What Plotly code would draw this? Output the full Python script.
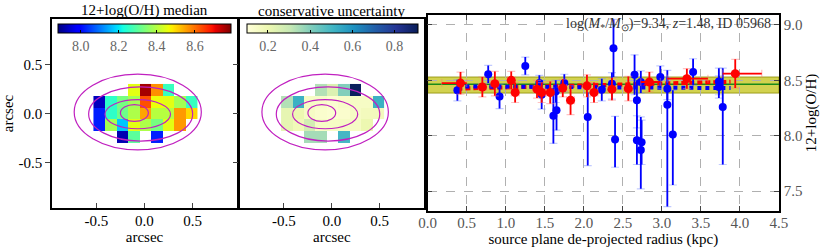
import numpy as np
import plotly.graph_objects as go

# ---------------- data ----------------
pix_x = [-0.47, -0.35, -0.23, -0.11, 0.01, 0.13, 0.25, 0.37, 0.49]
pix_y = [0.24, 0.12, 0.0, -0.12, -0.24]
N = None
oh_map = [
    [N, N, N, 8.45, 8.76, 8.57, 8.26, N, N],
    [7.93, 8.25, 8.33, 8.38, 8.63, 8.46, 8.45, 8.38, 8.26],
    [8.02, 8.25, 8.32, 8.39, 8.55, 8.40, 8.40, 8.56, 8.50],
    [8.02, 8.38, 8.17, 8.45, 8.39, 8.33, 8.45, 8.56, N],
    [N, N, 7.92, 8.30, N, 8.02, N, N, N],
]
unc_map = [
    [N, N, N, 0.33, 0.25, 0.40, 0.90, N, N],
    [0.33, 0.52, 0.15, 0.14, 0.12, 0.14, 0.15, 0.15, 0.52],
    [0.22, 0.20, 0.15, 0.13, 0.12, 0.13, 0.15, 0.17, 0.17],
    [0.22, 0.18, 0.27, 0.15, 0.15, 0.15, 0.15, 0.20, N],
    [N, N, 0.35, 0.35, N, 0.50, N, N, N],
]
# contour ellipses (x0, x1, y0, y1) in arcsec
cont_x0 = [-0.73, -0.58, -0.41, -0.25]
cont_x1 = [0.59, 0.50, 0.27, 0.04]
cont_y0 = [-0.37, -0.28, -0.155, -0.08]
cont_y1 = [0.40, 0.27, 0.14, 0.09]

# radial profile
blue_r = [0.38, 0.775, 0.92, 1.25, 1.43, 1.46, 1.61, 1.65, 1.64, 1.75, 2.05, 2.23,
          2.36, 2.38, 2.40, 2.65, 2.68, 2.68, 2.74, 2.73, 2.73, 2.98, 3.07, 3.07,
          3.14, 3.40, 3.73, 3.73, 3.78]
blue_oh = [8.41, 8.555, 8.355, 8.63, 8.475, 8.37, 8.18, 8.23, 8.40, 8.475, 8.17, 8.415,
           8.47, 8.79, 7.965, 8.55, 8.32, 7.96, 7.94, 7.87, 8.485, 8.53, 8.425, 8.28,
           8.01, 8.575, 8.49, 8.44, 8.26]
blue_ep = [0.095, 0.08, 0.11, 0.08, 0.07, 0.13, 0.25, 0.18, 0.10, 0.08, 0.22, 0.10,
           0.10, 0.26, 0.21, 0.18, 0.18, 0.22, 0.20, 0.30, 0.10, 0.10, 0.10, 0.31,
           0.40, 0.12, 0.12, 0.10, 0.35]
blue_em = [0.095, 0.08, 0.11, 0.08, 0.07, 0.13, 0.25, 0.18, 0.10, 0.08, 0.44, 0.10,
           0.14, 0.26, 0.25, 0.18, 0.25, 0.22, 0.20, 0.35, 0.10, 0.10, 0.10, 0.92,
           0.455, 0.12, 0.12, 0.10, 0.52]

red_r = [0.42, 0.70, 0.86, 1.07, 1.12, 1.40, 1.46, 1.57, 1.73, 1.83, 2.04, 2.13,
         2.36, 2.57, 2.84, 3.32, 3.94]
red_oh = [8.475, 8.44, 8.47, 8.50, 8.39, 8.42, 8.39, 8.39, 8.43, 8.32, 8.45, 8.39,
          8.42, 8.425, 8.485, 8.515, 8.56]
red_ey = [0.10, 0.09, 0.11, 0.08, 0.09, 0.08, 0.09, 0.10, 0.08, 0.13, 0.10, 0.09,
          0.10, 0.11, 0.09, 0.09, 0.13]
red_exm = [0.24, 0.05, 0.05, 0.05, 0.05, 0.05, 0.05, 0.05, 0.05, 0.05, 0.05, 0.05,
           0.05, 0.05, 0.11, 0.25, 0.16]
red_exp = [0.08, 0.05, 0.05, 0.05, 0.05, 0.05, 0.05, 0.05, 0.05, 0.05, 0.05, 0.05,
           0.05, 0.05, 0.14, 0.27, 0.34]

fit_r = [0.38, 3.88]
fit_red = [8.425, 8.487]
fit_blue = [8.445, 8.43]
global_oh = 8.465
band_lo, band_hi = 8.385, 8.53

info_text = "log(<i>M</i><sub>*</sub>/<i>M</i><sub>⊙</sub>)=9.34, <i>z</i>=1.48, ID 05968"

# ---------------- styles ----------------
FONT = "Liberation Serif"
W, H = 831, 252


def px2x(p):
    return p / W


def px2y(p):
    return 1 - p / H


# matplotlib jet
stops = [0, 0.11, 0.125, 0.34, 0.35, 0.375, 0.64, 0.65, 0.66, 0.89, 0.91, 1]
rr = np.interp(stops, [0, 0.35, 0.66, 0.89, 1], [0, 0, 1, 1, 0.5])
gg = np.interp(stops, [0, 0.125, 0.375, 0.64, 0.91, 1], [0, 0, 1, 1, 0, 0])
bb = np.interp(stops, [0, 0.11, 0.34, 0.65, 1], [0.5, 1, 1, 0, 0])
jet = [[s, f"rgb({int(r*255)},{int(g*255)},{int(b*255)})"] for s, r, g, b in zip(stops, rr, gg, bb)]
ylgnbu_cols = ["#ffffd9", "#edf8b1", "#c7e9b4", "#7fcdbb", "#41b6c4", "#1d91c0", "#225ea8", "#253494", "#081d58"]
ylgnbu = [[i / 8, c] for i, c in enumerate(ylgnbu_cols)]

fig = go.Figure()

left_dom = [px2x(44), px2x(233)]
mid_dom = [px2x(236), px2x(424)]
right_dom = [px2x(428), px2x(787)]
map_ydom = [px2y(208), px2y(19)]
right_ydom = [px2y(211), px2y(15)]

cb_common = dict(orientation="h", thickness=9, lenmode="fraction", yanchor="top",
                 xanchor="center", xpad=0, ypad=0,
                 outlinecolor="black", outlinewidth=1, ticks="inside", ticklen=3,
                 tickcolor="black",
                 tickfont=dict(family=FONT, size=14, color="#666666"))

fig.add_trace(go.Heatmap(x=pix_x, y=pix_y, z=oh_map, colorscale=jet, zmin=7.88, zmax=8.79,
                         xaxis="x", yaxis="y", hoverinfo="skip",
                         colorbar=dict(cb_common, x=px2x(138.5), len=177 / W, y=px2y(24),
                                       tickvals=[8.0, 8.2, 8.4, 8.6],
                                       ticktext=["8.0", "8.2", "8.4", "8.6"])))
fig.add_trace(go.Heatmap(x=pix_x, y=pix_y, z=unc_map, colorscale=ylgnbu, zmin=0.1, zmax=0.91,
                         xaxis="x2", yaxis="y2", hoverinfo="skip",
                         colorbar=dict(cb_common, x=px2x(330.5), len=175 / W, y=px2y(24),
                                       tickvals=[0.2, 0.4, 0.6, 0.8],
                                       ticktext=["0.2", "0.4", "0.6", "0.8"])))

shapes = []
for xr, yr in (("x", "y"), ("x2", "y2")):
    for x0, x1, y0, y1 in zip(cont_x0, cont_x1, cont_y0, cont_y1):
        shapes.append(dict(type="circle", xref=xr, yref=yr, x0=x0, x1=x1, y0=y0, y1=y1,
                           line=dict(color="#c020c0", width=1.2), layer="above"))

# band + global line on right panel
shapes.append(dict(type="rect", xref="x3 domain", yref="y3", x0=0, x1=1, y0=band_lo, y1=band_hi,
                   fillcolor="rgba(195,195,20,0.75)", line=dict(color="rgba(140,140,0,0.8)", width=1),
                   layer="below"))
shapes.append(dict(type="line", xref="x3 domain", yref="y3", x0=0, x1=1, y0=global_oh, y1=global_oh,
                   line=dict(color="#1a8a1a", width=1.5), layer="below"))

# fits
fig.add_trace(go.Scatter(x=fit_r, y=fit_red, mode="lines", xaxis="x3", yaxis="y3",
                         line=dict(color="red", width=4, dash="5px,3px"), hoverinfo="skip"))
fig.add_trace(go.Scatter(x=fit_r, y=fit_blue, mode="lines", xaxis="x3", yaxis="y3",
                         line=dict(color="blue", width=4, dash="4px,4px"), hoverinfo="skip"))

# blue points: caps (light) then solid
fig.add_trace(go.Scatter(x=blue_r, y=blue_oh, mode="markers", xaxis="x3", yaxis="y3",
                         marker=dict(color="rgba(0,0,0,0)", size=1),
                         error_y=dict(type="data", symmetric=False, array=blue_ep, arrayminus=blue_em,
                                      color="rgba(120,140,255,0.45)", thickness=1.2, width=4),
                         hoverinfo="skip"))
fig.add_trace(go.Scatter(x=blue_r, y=blue_oh, mode="markers", xaxis="x3", yaxis="y3",
                         marker=dict(color="blue", size=8),
                         error_y=dict(type="data", symmetric=False, array=blue_ep, arrayminus=blue_em,
                                      color="blue", thickness=1.8, width=0),
                         hoverinfo="skip"))
# red points
fig.add_trace(go.Scatter(x=red_r, y=red_oh, mode="markers", xaxis="x3", yaxis="y3",
                         marker=dict(color="rgba(0,0,0,0)", size=1),
                         error_y=dict(type="data", array=red_ey, color="rgba(255,120,120,0.45)",
                                      thickness=1.2, width=4),
                         error_x=dict(type="data", symmetric=False, array=red_exp, arrayminus=red_exm,
                                      color="rgba(255,120,120,0.45)", thickness=1.2, width=4),
                         hoverinfo="skip"))
fig.add_trace(go.Scatter(x=red_r, y=red_oh, mode="markers", xaxis="x3", yaxis="y3",
                         marker=dict(color="red", size=9),
                         error_y=dict(type="data", array=red_ey, color="red", thickness=1.8, width=0),
                         error_x=dict(type="data", symmetric=False, array=red_exp, arrayminus=red_exm,
                                      color="red", thickness=1.8, width=0),
                         hoverinfo="skip"))

axis_font = dict(family=FONT, size=15, color="black")
map_ticks = dict(tickvals=[-0.5, 0.0, 0.5], ticktext=["-0.5", "0.0", "0.5"])

annotations = [
    dict(text="12+log(O/H) median", x=px2x(138.5), y=px2y(11), xref="paper", yref="paper",
         xanchor="center", yanchor="middle",
         showarrow=False, font=dict(family=FONT, size=15, color="black")),
    dict(text="conservative uncertainty", x=px2x(330), y=px2y(11), xref="paper", yref="paper",
         xanchor="center", yanchor="middle",
         showarrow=False, font=dict(family=FONT, size=15, color="black")),
    dict(text=info_text, x=px2x(781), y=px2y(25), xref="paper", yref="paper", xanchor="right",
         yanchor="middle", showarrow=False, font=dict(family=FONT, size=14, color="#333333")),
]

fig.update_layout(
    width=W, height=H, margin=dict(l=0, r=0, t=0, b=0),
    paper_bgcolor="white", plot_bgcolor="white", showlegend=False,
    shapes=shapes, annotations=annotations,
    xaxis=dict(domain=left_dom, range=[-0.96, 0.96], **map_ticks, ticks="inside", ticklen=5,
               ticklabelstandoff=-2,
               showline=True, mirror=True, linecolor="black", linewidth=1.5, showgrid=False,
               zeroline=False, tickfont=dict(family=FONT, size=15, color="black"),
               title=dict(text="arcsec", font=axis_font, standoff=0)),
    yaxis=dict(domain=map_ydom, range=[-0.96, 0.96], **map_ticks, ticks="outside", ticklen=5,
               showline=True, mirror=True, linecolor="black", linewidth=1.5, showgrid=False,
               zeroline=False, tickfont=dict(family=FONT, size=15, color="black"),
               title=dict(text="arcsec", font=axis_font, standoff=4)),
    xaxis2=dict(domain=mid_dom, range=[-0.96, 0.96], **map_ticks, ticks="inside", ticklen=5,
                ticklabelstandoff=-2,
                showline=True, mirror=True, linecolor="black", linewidth=1.5, showgrid=False,
                zeroline=False, tickfont=dict(family=FONT, size=15, color="black"),
                title=dict(text="arcsec", font=axis_font, standoff=0), anchor="y2"),
    yaxis2=dict(domain=map_ydom, range=[-0.96, 0.96], tickvals=[-0.5, 0.0, 0.5], ticks="outside",
                ticklen=5, showticklabels=False, showline=True, mirror=True, linecolor="black",
                linewidth=1.5, showgrid=False, zeroline=False, anchor="x2"),
    xaxis3=dict(domain=right_dom, range=[0, 4.5], tickvals=[0, 0.5, 1, 1.5, 2, 2.5, 3, 3.5, 4, 4.5],
                ticktext=["0.0", "0.5", "1.0", "1.5", "2.0", "2.5", "3.0", "3.5", "4.0", "4.5"],
                ticks="inside", ticklen=5, mirror="ticks", showline=True, linecolor="black",
                ticklabelstandoff=-3,
                linewidth=1.5, showgrid=True, gridcolor="#b0b0b0", griddash="dash", gridwidth=1,
                zeroline=False, tickfont=dict(family=FONT, size=15, color="#555555"),
                title=dict(text="source plane de-projected radius (kpc)", font=axis_font, standoff=0),
                anchor="y3"),
    yaxis3=dict(domain=right_ydom, range=[7.32, 9.09], tickvals=[7.5, 8.0, 8.5, 9.0],
                ticktext=["7.5", "8.0", "8.5", "9.0"], side="right",
                ticks="inside", ticklen=5, mirror="ticks", showline=True, linecolor="black",
                linewidth=1.5, showgrid=True, gridcolor="#b0b0b0", griddash="dash", gridwidth=1,
                zeroline=False, tickfont=dict(family=FONT, size=15, color="#555555"),
                title=dict(text="12+log(O/H)", font=axis_font, standoff=4), anchor="x3"),
)

fig.write_html("out.html", post_script="document.body.style.margin='0px';",
               config={"displayModeBar": False})
